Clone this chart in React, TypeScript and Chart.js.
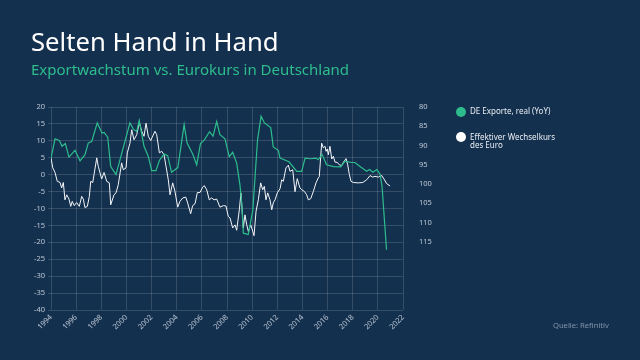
import { useEffect, useRef } from "react";
import { Chart, registerables } from "chart.js";

Chart.register(...registerables);

const exportDates = [
  1994.0, 1994.32, 1994.66, 1994.88, 1995.14, 1995.43, 1995.91, 1996.31, 1996.7, 1996.97,
  1997.24, 1997.68, 1998.06, 1998.22, 1998.51, 1998.75, 1999.17, 2000.28, 2000.58, 2000.82,
  2001.02, 2001.4, 2001.74, 2002.01, 2002.35, 2002.62, 2002.99, 2003.28, 2003.59, 2004.09,
  2004.59, 2004.82, 2005.3, 2005.59, 2005.89, 2006.2, 2006.61, 2006.89, 2007.18, 2007.44,
  2007.84, 2008.18, 2008.45, 2008.77, 2009.03, 2009.17, 2009.3, 2009.69, 2010.05, 2010.43,
  2010.71, 2010.98, 2011.48, 2011.68, 2012.08, 2012.22, 2012.93, 2013.55, 2013.94, 2014.21,
  2014.64, 2015.07, 2015.26, 2015.56, 2015.92, 2016.47, 2017.05, 2017.39, 2017.92, 2018.18,
  2018.66, 2019.11, 2019.34, 2019.61, 2019.91, 2020.17, 2020.33, 2020.69,
];
const exportValues = [
  4.9, 10.6, 10.1, 8.4, 9.2, 5.2, 7.2, 4.1, 5.9, 9.4,
  9.8, 15.3, 12.3, 12.5, 11.1, 2.4, 0, 15.3, 13.3, 12.8,
  16, 8.4, 5.4, 1.2, 1.2, 4.2, 6.1, 5.6, 0.7, 2.1,
  14.8, 9.4, 5.9, 2.9, 9.2, 10.3, 12.7, 11.4, 15.7, 11.8,
  10.6, 5.3, 6.6, 3.4, -3, -8.4, -17.3, -17.7, -10.6, 10.3,
  17.3, 15.3, 13.9, 8.2, 7.2, 4.9, 3.8, 1, 1, 4.9,
  4.7, 4.9, 4.4, 6, 2.9, 2.4, 2.3, 4, 3.6, 3.6,
  2.2, 1, 1.5, 0.7, 1.5, 0.2, -3.3, -22.2,
];

const fxDates = [
  1994.0, 1994.14, 1994.32, 1994.5, 1994.72, 1994.85, 1994.98, 1995.11, 1995.25, 1995.43,
  1995.57, 1995.69, 1995.85, 1996.04, 1996.25, 1996.44, 1996.57, 1996.7, 1996.89, 1997.05,
  1997.16, 1997.32, 1997.42, 1997.64, 1997.76, 1998.03, 1998.22, 1998.43, 1998.64, 1998.75,
  1999.01, 1999.17, 1999.35, 1999.62, 1999.75, 1999.97, 2000.07, 2000.28, 2000.42, 2000.6,
  2000.82, 2001.02, 2001.22, 2001.4, 2001.56, 2001.74, 2001.93, 2002.27, 2002.41, 2002.62,
  2002.81, 2002.99, 2003.15, 2003.33, 2003.47, 2003.68, 2003.86, 2004.08, 2004.26, 2004.48,
  2004.72, 2004.87, 2005.11, 2005.27, 2005.46, 2005.64, 2005.85, 2006.07, 2006.19, 2006.39,
  2006.59, 2006.78, 2006.97, 2007.18, 2007.44, 2007.71, 2007.92, 2008.1, 2008.24, 2008.45,
  2008.64, 2008.77, 2008.98, 2009.11, 2009.3, 2009.43, 2009.57, 2009.7, 2009.89, 2010.05,
  2010.15, 2010.31, 2010.49, 2010.68, 2010.84, 2010.97, 2011.1, 2011.24, 2011.42, 2011.56,
  2011.68, 2011.82, 2012.0, 2012.22, 2012.35, 2012.48, 2012.69, 2012.88, 2013.01, 2013.23,
  2013.41, 2013.59, 2013.8, 2013.96, 2014.15, 2014.34, 2014.47, 2014.66, 2014.87, 2015.08,
  2015.26, 2015.34, 2015.53, 2015.66, 2015.8, 2015.88, 2015.98, 2016.06, 2016.19, 2016.33,
  2016.46, 2016.59, 2016.78, 2016.93, 2017.12, 2017.31, 2017.47, 2017.6, 2017.73, 2017.86,
  2018.05, 2018.44, 2018.8, 2019.11, 2019.38, 2019.59, 2019.77, 2020.04, 2020.31, 2020.49,
  2020.7, 2020.97,
];
const fxValues = [
  93.2, 95.8, 97, 99.3, 99.6, 101, 99.6, 104.1, 102.8, 103.9,
  105.8, 104.5, 105.6, 104.8, 105.8, 103.2, 103.9, 106.1, 105.8, 103.2,
  99.3, 99.6, 97.6, 93.2, 95.4, 98.7, 97, 99.3, 99.7, 105.4,
  102.8, 102.3, 100.2, 94.5, 96.3, 95.8, 91.9, 89.4, 85.9, 88.5,
  87.2, 84, 86.3, 87.6, 84.2, 87.6, 88.7, 86.3, 87.2, 91.9,
  91.5, 92.4, 95.4, 98.9, 102.8, 99.7, 101.9, 106, 104.5, 103.6,
  103.4, 104.9, 107.7, 105.6, 105.1, 102.2, 102.2, 100.8, 100.4, 101.5,
  104.1, 103.6, 104.1, 103.9, 106, 105.6, 105.7, 108.4, 108.8, 111.4,
  110.6, 112, 106.7, 102.3, 111.4, 108, 110.6, 112.3, 110.6, 112.3,
  113.4, 107.1, 104.1, 99.7, 101.5, 100.6, 104.1, 102.3, 104.1, 106.7,
  104.9, 104.1, 102.3, 101.2, 98.9, 99.3, 95.8, 95.1, 96.7, 96.3,
  102, 98.6, 101, 101.5, 101.9, 102.8, 104.1, 103.8, 101.9, 99.7,
  98.4, 98.1, 89.4, 90.6, 90.2, 91.5, 90.9, 92.4, 90.2, 93.5,
  92.8, 94.3, 94.4, 95, 95.2, 94.1, 93.4, 95, 97.5, 99.3,
  99.6, 99.7, 99.6, 98.9, 97.8, 98.2, 98, 98.2, 97.8, 98.7,
  99.9, 100.5,
];

const seriesLabels = ["DE Exporte, real (YoY)", "Effektiver Wechselkurs des Euro"];
const yearRange = [1994, 2022];
const leftRange = [-40, 20];
const rightRange = [80, 132.7];
const rightLabelMax = 115;

const BG = "#14304f";
const GREEN = "#2dbd8c";
const GRID = "rgba(255,255,255,0.14)";
const TICK = "rgba(225,232,240,0.8)";
const FONT = "'Noto Sans', sans-serif";

export default function App() {
  const ref = useRef<HTMLCanvasElement | null>(null);

  useEffect(() => {
    document.body.style.margin = "0";
    const canvas = ref.current;
    if (!canvas) return;
    const chart = new Chart(canvas, {
      type: "line",
      data: {
        datasets: [
          {
            label: seriesLabels[0],
            data: exportDates.map((x, i) => ({ x, y: exportValues[i] })),
            borderColor: GREEN,
            borderWidth: 1.2,
            pointRadius: 0,
            yAxisID: "y",
            tension: 0,
          },
          {
            label: seriesLabels[1],
            data: fxDates.map((x, i) => ({ x, y: fxValues[i] })),
            borderColor: "#f4f6f8",
            borderWidth: 1,
            pointRadius: 0,
            yAxisID: "y2",
            tension: 0,
          },
        ],
      },
      options: {
        responsive: false,
        animation: false,
        layout: { padding: { left: 0, top: 107, right: 207, bottom: 0 } },
        plugins: { legend: { display: false }, tooltip: { enabled: false } },
        scales: {
          x: {
            type: "linear",
            min: yearRange[0],
            max: yearRange[1],
            afterFit: (s: any) => {
              s.height = 50;
            },
            grid: { color: GRID, drawTicks: false },
            border: { display: false },
            ticks: {
              stepSize: 2,
              minRotation: 45,
              maxRotation: 45,
              padding: 3,
              color: TICK,
              font: { family: FONT, size: 7.5 },
              callback: (v: any) => String(v),
            },
          },
          y: {
            position: "left",
            min: leftRange[0],
            max: leftRange[1],
            afterFit: (s: any) => {
              s.width = 51;
            },
            grid: { color: GRID, tickLength: 3 },
            border: { display: false },
            ticks: {
              stepSize: 5,
              padding: 3,
              color: TICK,
              font: { family: FONT, size: 7.5 },
            },
          },
          y2: {
            position: "right",
            reverse: true,
            min: rightRange[0],
            max: rightRange[1],
            afterFit: (s: any) => {
              s.width = 30;
            },
            grid: { display: false },
            border: { display: false },
            ticks: {
              stepSize: 5,
              padding: 8,
              color: TICK,
              font: { family: FONT, size: 7.5 },
              callback: (v: any) => (v <= rightLabelMax && v % 5 === 0 ? String(v) : ""),
            },
          },
        },
      },
    });
    return () => chart.destroy();
  }, []);

  const dot = (color: string, top: number) => (
    <div
      style={{
        position: "absolute",
        left: 455.7,
        top: top - 5,
        width: 10,
        height: 10,
        borderRadius: "50%",
        background: color,
      }}
    />
  );

  return (
    <div
      style={{
        position: "fixed",
        left: 0,
        top: 0,
        width: 640,
        height: 360,
        background: BG,
        fontFamily: FONT,
        overflow: "hidden",
      }}
    >
      <canvas ref={ref} width={640} height={360} style={{ position: "absolute", left: 0, top: 0, display: "block" }} />
      <div
        style={{
          position: "absolute",
          left: 31,
          top: 29.3,
          fontSize: 25.7,
          lineHeight: "26px",
          color: "#ffffff",
          whiteSpace: "nowrap",
        }}
      >
        Selten Hand in Hand
      </div>
      <div
        style={{
          position: "absolute",
          left: 31,
          top: 61.7,
          fontSize: 15,
          lineHeight: "15px",
          color: GREEN,
          whiteSpace: "nowrap",
        }}
      >
        Exportwachstum vs. Eurokurs in Deutschland
      </div>
      {dot(GREEN, 111.7)}
      {dot("#ffffff", 136.7)}
      <div
        style={{
          position: "absolute",
          left: 470,
          top: 107,
          fontSize: 8,
          lineHeight: "8.5px",
          color: "#e8edf2",
          whiteSpace: "nowrap",
        }}
      >
        {seriesLabels[0]}
      </div>
      <div
        style={{
          position: "absolute",
          left: 470,
          top: 132.6,
          fontSize: 8,
          lineHeight: "8.5px",
          color: "#e8edf2",
          width: 100,
        }}
      >
        Effektiver Wechselkurs
        <br />
        des Euro
      </div>
      <div
        style={{
          position: "absolute",
          left: 553,
          top: 321,
          fontSize: 7.6,
          lineHeight: "8px",
          color: "#8093a8",
          whiteSpace: "nowrap",
        }}
      >
        Quelle: Refinitiv
      </div>
    </div>
  );
}
